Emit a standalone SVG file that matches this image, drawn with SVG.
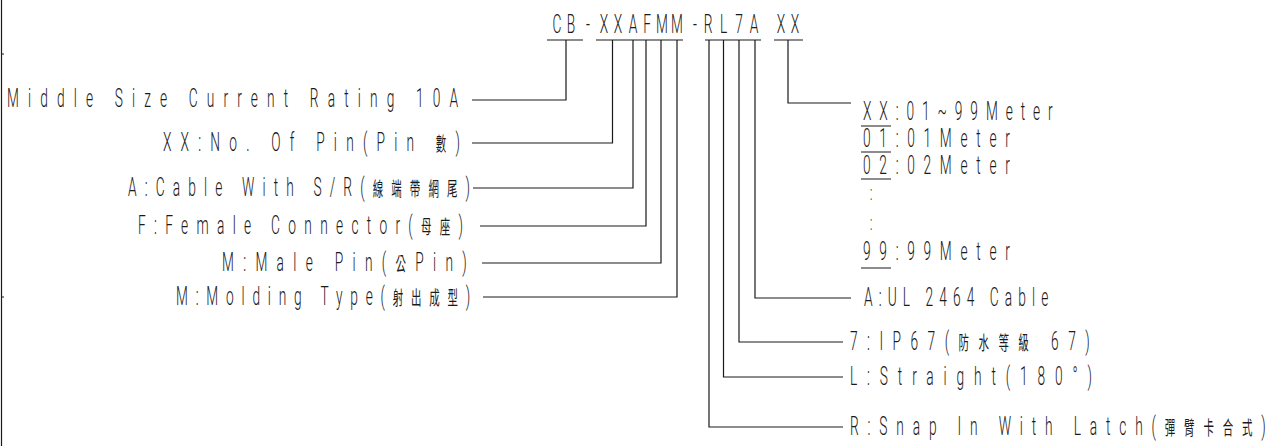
<svg xmlns="http://www.w3.org/2000/svg" width="1270" height="446" viewBox="0 0 1270 446">
<style>
.t{font-family:Roboto,"Liberation Sans","Noto Sans CJK TC",sans-serif;font-weight:300;font-size:25px;fill:#1a1a1a;}
.c{font-family:"Noto Sans CJK TC","Liberation Sans",sans-serif;font-weight:400;font-size:19px;}
.d{font-size:20px;}
.ln{stroke:#1a1a1a;stroke-width:1.2;fill:none;}
</style>
<rect width="1270" height="446" fill="#ffffff"/>
<g id="border">
<path class="ln" d="M1.5,0V446M1.5,54H4M1.5,297H4"/>
</g>
<g id="code">
<text class="t" transform="translate(0,33) scale(0.55,1)" text-anchor="middle" x="1012.7 1038.2 1069.1 1098.2 1123.6 1150.9 1176.4 1203.6 1230.9 1263.6 1287.3 1315.5 1343.6 1370.9 1420 1445.5">CB-XXAFMM-RL7AXX</text>
<path class="ln" d="M547,40H583M596,40H683M705,40H761M774,40H803"/>
</g>
<g id="connectors">
<path class="ln" d="M566,40V100H472"/>
<path class="ln" d="M612.5,40V143H472"/>
<path class="ln" d="M633,40V188H473"/>
<path class="ln" d="M646,40V226H480"/>
<path class="ln" d="M661,40V263H482"/>
<path class="ln" d="M677,40V297H483"/>
<path class="ln" d="M788,40V103H851"/>
<path class="ln" d="M755,40V298H851"/>
<path class="ln" d="M739,40V342H843"/>
<path class="ln" d="M723.5,40V377H843"/>
<path class="ln" d="M709,40V427H843"/>
</g>
<g id="n-middle"><text class="t" transform="translate(7,107) scale(0.55,1)" textLength="820" lengthAdjust="spacing">Middle Size Current Rating 10A</text></g>
<g id="n-pin"><text class="t" transform="translate(163,151) scale(0.55,1)" textLength="540" lengthAdjust="spacing">XX:No. Of Pin(Pin <tspan class="c">數</tspan>)</text></g>
<g id="n-cable"><text class="t" transform="translate(128,196) scale(0.55,1)" textLength="622" lengthAdjust="spacing">A:Cable With S/R(<tspan class="c">線端帶網尾</tspan>)</text></g>
<g id="n-female"><text class="t" transform="translate(138,234) scale(0.55,1)" textLength="591" lengthAdjust="spacing">F:Female Connector(<tspan class="c">母座</tspan>)</text></g>
<g id="n-male"><text class="t" transform="translate(222,271) scale(0.55,1)" textLength="445" lengthAdjust="spacing">M:Male Pin(<tspan class="c">公</tspan>Pin)</text></g>
<g id="n-molding"><text class="t" transform="translate(176,305) scale(0.55,1)" textLength="535" lengthAdjust="spacing">M:Molding Type(<tspan class="c">射出成型</tspan>)</text></g>
<g id="n-length">
<text class="t" transform="translate(863,120) scale(0.55,1)" textLength="345" lengthAdjust="spacing">XX:01~99Meter</text>
<text class="t" transform="translate(863,147) scale(0.55,1)" textLength="267" lengthAdjust="spacing">01:01Meter</text>
<text class="t" transform="translate(863,174) scale(0.55,1)" textLength="267" lengthAdjust="spacing">02:02Meter</text>
<text class="t d" transform="translate(870,200) scale(0.55,1)">:</text>
<text class="t d" transform="translate(870,230) scale(0.55,1)">:</text>
<text class="t" transform="translate(863,260) scale(0.55,1)" textLength="267" lengthAdjust="spacing">99:99Meter</text>
<path class="ln" d="M861,126H891M861,152H891M861,179H891M861,268H891"/>
</g>
<g id="n-ul"><text class="t" transform="translate(864,306) scale(0.55,1)" textLength="335" lengthAdjust="spacing">A:UL 2464 Cable</text></g>
<g id="n-ip"><text class="t" transform="translate(850,350) scale(0.55,1)" textLength="436" lengthAdjust="spacing">7:IP67(<tspan class="c">防水等級</tspan> 67)</text></g>
<g id="n-straight"><text class="t" transform="translate(850,385) scale(0.55,1)" textLength="440" lengthAdjust="spacing">L:Straight(180°)</text></g>
<g id="n-snap"><text class="t" transform="translate(850,435) scale(0.55,1)" textLength="756" lengthAdjust="spacing">R:Snap In With Latch(<tspan class="c">彈臂卡合式</tspan>)</text></g>
</svg>
